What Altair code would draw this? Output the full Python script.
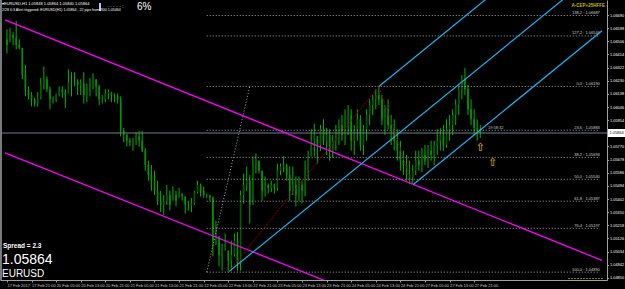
import altair as alt
import pandas as pd

# ---------------- data (EURUSD H1, bar index 0 = 17 Feb 2017 13:00) ----------------
highs = [1.0659, 1.0660, 1.0657, 1.0665, 1.0652, 1.0646, 1.0634, 1.0619, 1.0615, 1.0611,
         1.0615, 1.0625, 1.0633, 1.0626, 1.0619, 1.0612, 1.0614, 1.0619, 1.0619, 1.0617,
         1.0631, 1.0629, 1.0629, 1.0624, 1.0624, 1.0629, 1.0621, 1.0625, 1.0628, 1.0624,
         1.0620, 1.0613, 1.0617, 1.0617, 1.0615, 1.0614, 1.0614, 1.0612, 1.0590, 1.0586,
         1.0583, 1.0583, 1.0587, 1.0588, 1.0588, 1.0576, 1.0567, 1.0564, 1.0560, 1.0553,
         1.0546, 1.0543, 1.0550, 1.0546, 1.0549, 1.0546, 1.0548, 1.0544, 1.0542, 1.0539,
         1.0541, 1.0546, 1.0553, 1.0551, 1.0549, 1.0544, 1.0543, 1.0542, 1.0525, 1.0514,
         1.0509, 1.0516, 1.0504, 1.0511, 1.0516, 1.0517, 1.0546, 1.0558, 1.0563, 1.0557,
         1.0570, 1.0572, 1.0567, 1.0560, 1.0556, 1.0551, 1.0553, 1.0551, 1.0565, 1.0565,
         1.0570, 1.0565, 1.0563, 1.0563, 1.0556, 1.0556, 1.0553, 1.0567, 1.0574, 1.0589,
         1.0593, 1.0584, 1.0592, 1.0596, 1.0590, 1.0589, 1.0585, 1.0592, 1.0596, 1.0599,
         1.0603, 1.0606, 1.0603, 1.0592, 1.0603, 1.0599, 1.0592, 1.0603, 1.0610, 1.0613,
         1.0617, 1.0619, 1.0613, 1.0606, 1.0610, 1.0599, 1.0596, 1.0589, 1.0581, 1.0574,
         1.0571, 1.0567, 1.0564, 1.0574, 1.0574, 1.0576, 1.0578, 1.0578, 1.0581, 1.0581,
         1.0589, 1.0590, 1.0592, 1.0596, 1.0599, 1.0603, 1.0610, 1.0620, 1.0627, 1.0632,
         1.0620, 1.0610, 1.0603, 1.0596, 1.0592]
lows = [1.0642, 1.0650, 1.0648, 1.0645, 1.0645, 1.0624, 1.0612, 1.0610, 1.0605, 1.0605,
        1.0605, 1.0610, 1.0617, 1.0615, 1.0603, 1.0607, 1.0608, 1.0612, 1.0611, 1.0604,
        1.0614, 1.0612, 1.0619, 1.0613, 1.0613, 1.0607, 1.0608, 1.0612, 1.0617, 1.0612,
        1.0606, 1.0607, 1.0608, 1.0610, 1.0608, 1.0608, 1.0607, 1.0584, 1.0580, 1.0577,
        1.0577, 1.0574, 1.0578, 1.0577, 1.0573, 1.0560, 1.0553, 1.0546, 1.0543, 1.0536,
        1.0531, 1.0529, 1.0536, 1.0532, 1.0539, 1.0535, 1.0541, 1.0539, 1.0530, 1.0532,
        1.0531, 1.0536, 1.0544, 1.0542, 1.0541, 1.0541, 1.0539, 1.0500, 1.0508, 1.0493,
        1.0490, 1.0504, 1.0489, 1.0490, 1.0500, 1.0490, 1.0490, 1.0537, 1.0546, 1.0523,
        1.0536, 1.0558, 1.0558, 1.0539, 1.0542, 1.0544, 1.0545, 1.0544, 1.0546, 1.0557,
        1.0559, 1.0553, 1.0539, 1.0543, 1.0535, 1.0539, 1.0537, 1.0542, 1.0553, 1.0570,
        1.0570, 1.0565, 1.0574, 1.0578, 1.0571, 1.0567, 1.0569, 1.0574, 1.0578, 1.0581,
        1.0578, 1.0585, 1.0574, 1.0571, 1.0581, 1.0574, 1.0571, 1.0581, 1.0592, 1.0599,
        1.0603, 1.0606, 1.0592, 1.0585, 1.0589, 1.0578, 1.0574, 1.0567, 1.0560, 1.0557,
        1.0553, 1.0551, 1.0550, 1.0557, 1.0560, 1.0559, 1.0564, 1.0562, 1.0567, 1.0564,
        1.0571, 1.0574, 1.0574, 1.0576, 1.0581, 1.0585, 1.0592, 1.0599, 1.0610, 1.0613,
        1.0599, 1.0592, 1.0585, 1.0581, 1.0583]
closes = [1.0648, 1.0655, 1.0653, 1.0648, 1.0646, 1.0627, 1.0617, 1.0613, 1.0610, 1.0607,
          1.0611, 1.0620, 1.0624, 1.0617, 1.0610, 1.0610, 1.0613, 1.0617, 1.0615, 1.0613,
          1.0622, 1.0622, 1.0622, 1.0620, 1.0621, 1.0613, 1.0618, 1.0620, 1.0624, 1.0619,
          1.0610, 1.0610, 1.0614, 1.0615, 1.0613, 1.0612, 1.0610, 1.0588, 1.0585, 1.0581,
          1.0580, 1.0581, 1.0584, 1.0581, 1.0574, 1.0564, 1.0557, 1.0553, 1.0546, 1.0539,
          1.0536, 1.0539, 1.0543, 1.0536, 1.0543, 1.0539, 1.0544, 1.0542, 1.0536, 1.0536,
          1.0537, 1.0545, 1.0550, 1.0546, 1.0543, 1.0543, 1.0541, 1.0511, 1.0515, 1.0501,
          1.0506, 1.0508, 1.0497, 1.0501, 1.0511, 1.0496, 1.0543, 1.0550, 1.0553, 1.0536,
          1.0564, 1.0567, 1.0560, 1.0546, 1.0550, 1.0548, 1.0550, 1.0548, 1.0560, 1.0563,
          1.0564, 1.0557, 1.0546, 1.0550, 1.0543, 1.0550, 1.0546, 1.0560, 1.0571, 1.0581,
          1.0585, 1.0578, 1.0589, 1.0581, 1.0585, 1.0574, 1.0581, 1.0589, 1.0592, 1.0585,
          1.0596, 1.0599, 1.0581, 1.0589, 1.0596, 1.0578, 1.0589, 1.0599, 1.0606, 1.0610,
          1.0613, 1.0610, 1.0596, 1.0603, 1.0592, 1.0589, 1.0581, 1.0574, 1.0567, 1.0564,
          1.0557, 1.0555, 1.0560, 1.0567, 1.0564, 1.0571, 1.0567, 1.0574, 1.0571, 1.0578,
          1.0581, 1.0585, 1.0578, 1.0589, 1.0592, 1.0599, 1.0606, 1.0617, 1.0624, 1.0617,
          1.0603, 1.0596, 1.0590, 1.0589, 1.05864]
first_open = 1.0652
bid = 1.05864

date_labels = ["17 Feb 2017", "17 Feb 21:00", "20 Feb 05:00", "20 Feb 13:00", "20 Feb 21:00",
               "21 Feb 05:00", "21 Feb 13:00", "21 Feb 21:00", "22 Feb 05:00", "22 Feb 13:00",
               "22 Feb 21:00", "23 Feb 05:00", "23 Feb 13:00", "23 Feb 21:00", "24 Feb 05:00",
               "24 Feb 13:00", "24 Feb 21:00", "27 Feb 05:00", "27 Feb 13:00", "27 Feb 21:00"]
date_ticks = [0, 8, 16, 24, 32, 40, 48, 56, 64, 72, 80, 88, 96, 104, 112, 120, 128, 136, 144, 152]
price_ticks = [1.06690, 1.06598, 1.06506, 1.06414, 1.06322, 1.06230, 1.06138, 1.06046, 1.05954,
               1.05770, 1.05678, 1.05586, 1.05494, 1.05402, 1.05310, 1.05218, 1.05126, 1.05034,
               1.04942, 1.04850]

# Fibonacci retracement
fib_names = ["138.2", "127.2", "0.0", "23.6", "38.2", "50.0", "61.8", "76.4", "100.0"]
fib_ratios = [-0.382, -0.272, 0.0, 0.236, 0.382, 0.5, 0.618, 0.764, 1.0]
fib_high, fib_low = 1.0619, 1.0489
fib_bars = [65, 79]          # low anchor bar, high anchor bar

# Andrews pitchfork anchors (bar, price)
pf_a = (72, 1.0489)
pf_b = (121, 1.0619)
pf_c = (132, 1.0550)

# Magenta descending channel anchors (bar, price)
mag_upper = [(0, 1.0665), (150, 1.0535)]
mag_lower = [(0, 1.0572), (100, 1.0486)]

# Arrow objects (bar, price)
arrow_bars = [154, 158]
arrow_prices = [1.05759, 1.05654]

# ---------------- scales ----------------
XMIN, XMAX = -0.64, 193.6
YMIN, YMAX = 1.04835, 1.06795
xs = alt.Scale(domain=[XMIN, XMAX], nice=False, zero=False)
ys = alt.Scale(domain=[YMIN, YMAX], nice=False, zero=False)

label_expr = "[" + ",".join("'%s'" % s for s in date_labels) + "][round(datum.value/8)]"
xaxis = alt.Axis(values=date_ticks, tickCount=40, labelExpr=label_expr, labelAlign="left",
                 labelFontSize=4, labelColor="#c8c8c8", labelFont="Liberation Sans", labelPadding=1,
                 tickSize=2, tickColor="#a0a0a0", domainColor="#a0a0a0", grid=False,
                 title=None, labelOverlap=False, labelFlush=False, labelSeparation=0)
yaxis = alt.Axis(orient="right", values=price_ticks, tickCount=40, format=".5f", labelFontSize=3.9,
                 labelColor="#ffffff", labelFont="Liberation Sans", labelPadding=1,
                 tickSize=1.5, tickColor="#a0a0a0", domainColor="#a0a0a0", grid=False,
                 title=None, labelOverlap=False, labelFlush=False, labelSeparation=0)

# ---------------- bars ----------------
opens = [first_open] + closes[:-1]
opens = [min(max(o, l), h) for o, l, h in zip(opens, lows, highs)]
bars = pd.DataFrame({
    "i": list(range(len(closes))),
    "open": opens, "high": highs, "low": lows, "close": closes,
})
bars["dir"] = ["up" if c >= o else "down" for o, c in zip(bars["open"], bars["close"])]

wicks = alt.Chart(bars).mark_rule(color="#00b400", strokeWidth=1).encode(
    x=alt.X("i:Q", scale=xs, axis=xaxis),
    y=alt.Y("low:Q", scale=ys, axis=yaxis),
    y2="high:Q",
)
bodies = alt.Chart(bars).mark_bar(size=1.6).encode(
    x="i:Q", y="open:Q", y2="close:Q",
    color=alt.Color("dir:N", scale=alt.Scale(domain=["up", "down"], range=["#005c00", "#009600"]),
                    legend=None),
)

# ---------------- objects ----------------
def extend(p1, p2, x0, x1):
    s = (p2[1] - p1[1]) / (p2[0] - p1[0])
    return [(x0, p1[1] + s * (x0 - p1[0])), (x1, p1[1] + s * (x1 - p1[0]))]

mag_rows = []
for name, pts in [("u", mag_upper), ("l", mag_lower)]:
    for k, (x, y) in enumerate(extend(pts[0], pts[1], XMIN, XMAX)):
        mag_rows.append({"id": name, "o": k, "x": x, "p": y})
magenta = alt.Chart(pd.DataFrame(mag_rows)).mark_line(color="#ff00ff", strokeWidth=1.3, clip=True).encode(
    x="x:Q", y="p:Q", detail="id:N", order="o:Q")

mid = ((pf_b[0] + pf_c[0]) / 2, (pf_b[1] + pf_c[1]) / 2)
slope = (mid[1] - pf_a[1]) / (mid[0] - pf_a[0])
pf_rows = []
for name, p in [("m", pf_a), ("u", pf_b), ("l", pf_c)]:
    pf_rows.append({"id": name, "o": 0, "x": p[0], "p": p[1]})
    pf_rows.append({"id": name, "o": 1, "x": XMAX, "p": p[1] + slope * (XMAX - p[0])})
pitchfork = alt.Chart(pd.DataFrame(pf_rows)).mark_line(color="#1eb4f0", strokeWidth=1.2, clip=True).encode(
    x="x:Q", y="p:Q", detail="id:N", order="o:Q")

zz = pd.DataFrame({"o": [0, 1, 2], "x": [pf_a[0], pf_b[0], pf_c[0]], "p": [pf_a[1], pf_b[1], pf_c[1]]})
zigzag = alt.Chart(zz).mark_line(color="#8b0000", strokeWidth=1, strokeDash=[2, 1]).encode(
    x="x:Q", y="p:Q", order="o:Q")

fib_rng = fib_high - fib_low
fib_df = pd.DataFrame({
    "x0": [fib_bars[0]] * len(fib_ratios),
    "x1": [192.9] * len(fib_ratios),
    "price": [fib_high - r * fib_rng for r in fib_ratios],
    "label": ["%s : %.5f" % (n, fib_high - r * fib_rng) for n, r in zip(fib_names, fib_ratios)],
})
fib_lines = alt.Chart(fib_df).mark_rule(color="#a8a8a8", strokeDash=[1, 2], strokeWidth=1).encode(
    x="x0:Q", x2="x1:Q", y="price:Q")
fib_text = alt.Chart(fib_df).mark_text(align="right", baseline="bottom", dy=-0.5, fontSize=4,
                                       color="#d0d0d0", font="Liberation Sans").encode(
    x="x1:Q", y="price:Q", text="label:N")
fib_diag = alt.Chart(pd.DataFrame({"x": fib_bars, "p": [fib_low, fib_high]})).mark_line(
    color="#b0b0b0", strokeDash=[1, 2], strokeWidth=1).encode(x="x:Q", y="p:Q")

bid_df = pd.DataFrame({"p": [bid], "t": ["%.5f" % bid]})
bid_line = alt.Chart(bid_df).mark_rule(color="#6f7f8f", strokeWidth=1).encode(y="p:Q")
bid_box = alt.Chart(bid_df).mark_rect(color="#ffffff", yOffset=-4, y2Offset=4).encode(
    x=alt.value(608), x2=alt.value(625), y="p:Q", y2=alt.Y2("p"))
bid_txt = alt.Chart(bid_df).mark_text(align="left", baseline="middle", fontSize=3.9, color="#000000",
                                      font="Liberation Sans").encode(x=alt.value(609.5), y="p:Q", text="t:N")

arrows = alt.Chart(pd.DataFrame({"x": arrow_bars, "p": arrow_prices})).mark_text(
    text="⇧", fontSize=11, color="#e8c400", font="DejaVu Sans", baseline="middle").encode(
    x="x:Q", y="p:Q")


def label(text, x, y, size, color="#ffffff", weight="normal", align="left", font="Liberation Sans"):
    return alt.Chart(pd.DataFrame({"t": [text]})).mark_text(
        align=align, baseline="middle", fontSize=size, color=color, fontWeight=weight, font=font
    ).encode(x=alt.value(x), y=alt.value(y), text="t:N")


texts = [
    label("▾EURUSD,H1  1.05848 1.05864 1.05840 1.05864", 2, 4, 4),
    label("2/28 0:3 Alert triggered: EURUSD(H1) 1.05864 , 22 pips from R00 1.05464", 2, 10, 3.6),
    label("·   ·   ·   ·   ·   :", 107, 6, 5),
    label("6%", 137, 7, 10),
    label("A-CEP+25HFFE", 605, 6, 4.5, color="#c0c000", weight="bold", align="right"),
    label("19:58:32", 488, 128, 4, color="#c0c0c0"),
    label("Spread = 2.3", 3, 246, 6.5, weight="bold"),
    label("1.05864", 2, 260, 14),
    label("EURUSD", 2, 274, 10),
]
left_edge = alt.Chart(pd.DataFrame({"a": [0]})).mark_rule(color="#7a7a7a", strokeWidth=2).encode(
    x=alt.value(1), y=alt.value(0), y2=alt.value(280))
top_bar = alt.Chart(pd.DataFrame({"a": [0]})).mark_rule(color="#b8c8ff", strokeWidth=2).encode(
    x=alt.value(100), y=alt.value(3), y2=alt.value(11))
olive = alt.Chart(pd.DataFrame({"a": [0]})).mark_rule(color="#808000", strokeWidth=1, strokeDash=[2, 1]).encode(
    x=alt.value(568), x2=alt.value(604), y=alt.value(278.5))

chart = alt.layer(
    wicks, bodies, fib_diag, fib_lines, fib_text, bid_line, magenta, pitchfork, zigzag,
    arrows, left_edge, top_bar, olive, *texts, bid_box, bid_txt,
).properties(
    width=607, height=280,
    padding={"left": 0, "top": 0, "right": 18, "bottom": 9},
    autosize=alt.AutoSizeParams(type="none"),
    background="#000000",
).configure_view(strokeWidth=0).configure_axis(labelOverlap=False, labelSeparation=0)

chart.save("out.html", embed_options={"renderer": "svg", "actions": False})
